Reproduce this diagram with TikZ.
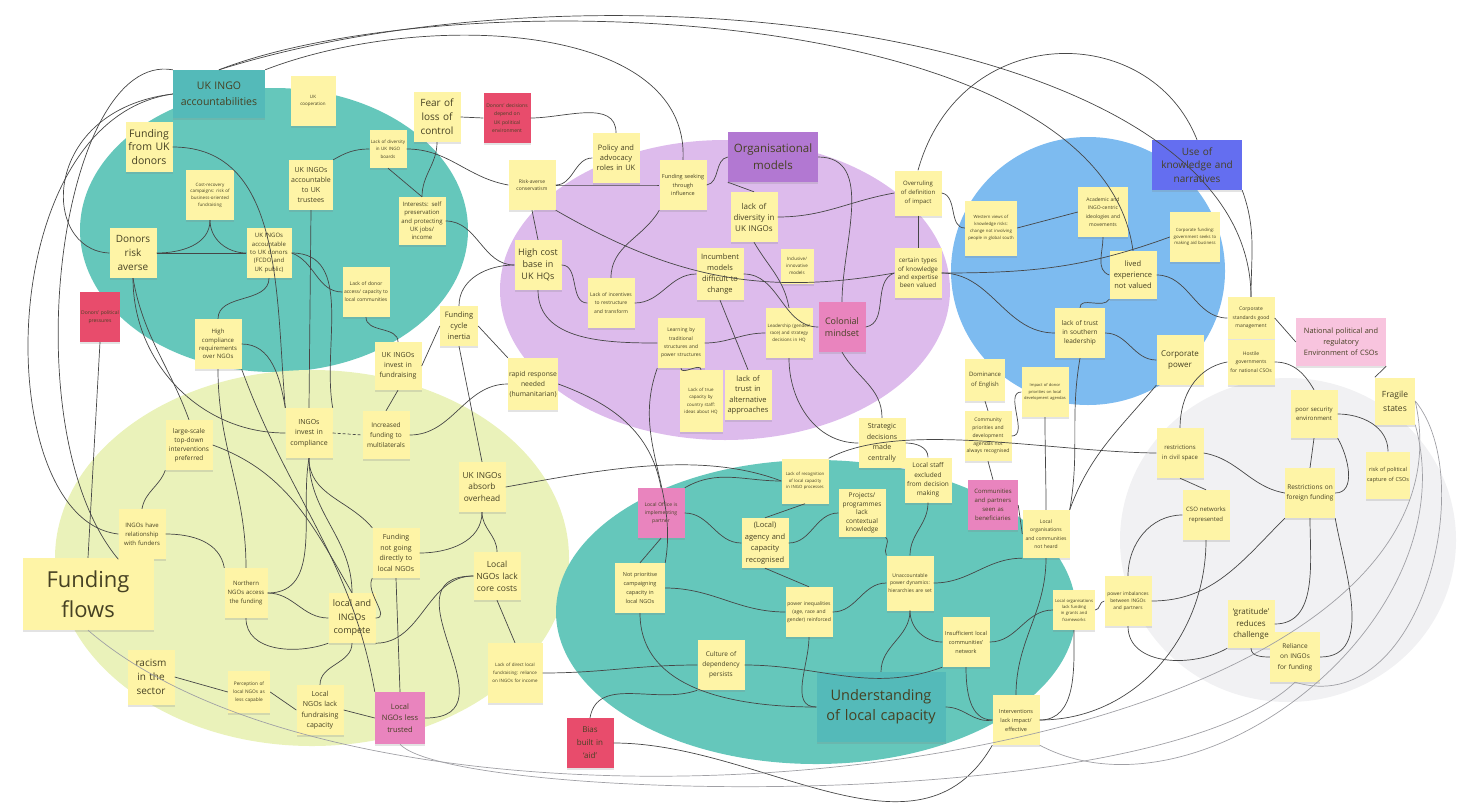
\documentclass[tikz,border=0pt]{standalone}
\usepackage{fontspec}
\setmainfont{Open Sans}
\usetikzlibrary{shadows}
\hyphenpenalty=10000
\exhyphenpenalty=10000
\definecolor{sticky}{RGB}{254,244,166}
\definecolor{inkbrown}{RGB}{70,65,35}
\definecolor{redsticky}{RGB}{232,76,108}
\definecolor{pinksticky}{RGB}{233,132,190}
\definecolor{palepink}{RGB}{248,196,222}
\definecolor{tealzone}{RGB}{101,199,187}
\definecolor{tealhead}{RGB}{84,186,185}
\definecolor{lilaczone}{RGB}{221,187,236}
\definecolor{purplehead}{RGB}{178,120,210}
\definecolor{bluezone}{RGB}{125,187,240}
\definecolor{bluehead}{RGB}{100,110,240}
\definecolor{limezone}{RGB}{234,242,186}
\definecolor{greyzone}{RGB}{241,241,243}
\definecolor{wire}{RGB}{70,70,70}
\definecolor{wirelight}{RGB}{160,160,165}
\newcommand{\fsz}[2]{\fontsize{#1}{#2}\selectfont}
\tikzstyle{note} = [rectangle, fill=sticky, text=inkbrown, align=center, inner sep=1pt,
minimum width=47pt, minimum height=50pt, text width=45pt, font=\fsz{5}{8},
drop shadow={shadow xshift=0pt, shadow yshift=-2pt, opacity=0.22}]
\tikzstyle{rednote} = [note, fill=redsticky]
\tikzstyle{pinknote} = [note, fill=pinksticky]
\tikzstyle{header} = [note, minimum width=90pt, text width=86pt, font=\fsz{10.5}{16}]
\tikzstyle{conn} = [draw=wire, line width=0.7pt]
\tikzstyle{faint} = [conn, draw=wirelight]
\newcommand{\links}[3][]{ %
  % join every node in #2 to every node in #3
  \foreach \x in {#2} { %
    \foreach \y in {#3} { %
      \path (\x) edge [conn,#1] (\y) ;%
    } ;
  } ;
}

\begin{document}
\begin{tikzpicture}[x=1pt, y=-1pt]
  \useasboundingbox (0,0) rectangle (1463,809);

  % zones
  \fill[tealzone] (274,230) ellipse [x radius=194, y radius=142];
  \fill[lilaczone] (725,290) ellipse [x radius=225, y radius=150];
  \fill[bluezone] (1088,271) ellipse [x radius=137, y radius=134];
  \fill[limezone] (312,558) ellipse [x radius=257, y radius=188];
  \fill[tealzone] (816,612) ellipse [x radius=260, y radius=152];
  \fill[greyzone] (1288,540) ellipse [x radius=168, y radius=162];

  % UK INGO accountabilities
  \node[header, fill=tealhead, minimum width=92pt, minimum height=48pt, text width=88pt] (ukingo) at (219,94) {UK INGO\\accountabilities};
  \node[note, minimum width=45pt, text width=43pt, font=\fsz{4.5}{7}] (ukcoop) at (313,101) {UK\\cooperation};
  \node[note, minimum width=46pt, font=\fsz{10.5}{13.5}] (fromuk) at (149,147) {Funding\\from UK\\donors};
  \node[note, minimum width=48pt, font=\fsz{4.5}{6.7}] (costrec) at (210,195) {Cost-recovery campaigns: risk of business-oriented fundraising};
  \node[note, font=\fsz{10}{14}] (riskav) at (133,253) {Donors\\risk\\averse};
  \node[note, minimum width=44pt, text width=42pt, font=\fsz{7}{10}] (trustees) at (311,185) {UK INGOs accountable to UK trustees};
  \node[note, minimum width=45pt, text width=43pt, font=\fsz{6}{8.3}] (accdon) at (269,253) {UK INGOs accountable to UK donors (FCDO and UK public)};
  \node[note, minimum width=37pt, minimum height=38pt, text width=35pt, font=\fsz{4.5}{7.5}] (boards) at (388,149) {Lack of diversity in UK INGO boards};
  \node[note, minimum height=48pt, font=\fsz{6}{8.3}] (selfpres) at (422,221) {Interests: self preservation and protecting UK jobs/ income};
  \node[note, font=\fsz{5}{8}] (donacc) at (366,292) {Lack of donor access/ capacity to local communities};
  \node[rednote, minimum width=40pt, text width=38pt, font=\fsz{5}{8}] (consdon) at (100,317) {Donors' political pressures};
  \node[note, font=\fsz{6}{8.3}] (highcomp) at (218,344) {High compliance requirements over NGOs};

  % Organisational models
  \node[note, minimum width=45pt, font=\fsz{10}{14}] (fear) at (437,117) {Fear of\\loss of\\control};
  \node[rednote, font=\fsz{5}{8.3}] (donpress) at (507,118) {Donors' decisions depend on UK political environment};
  \node[note, font=\fsz{7.5}{10}] (policy) at (616,158) {Policy and advocacy roles in UK};
  \node[note, font=\fsz{5}{6.7}] (conserv) at (532,185) {Risk-averse conservatism};
  \node[note, font=\fsz{5.5}{8.3}] (seeking) at (683,185) {Funding seeking through influence};
  \node[header, fill=purplehead, minimum height=50pt, font=\fsz{11.5}{17}] (orgmod) at (773,157) {Organisational\\models};
  \node[note, font=\fsz{8}{11}] (lackdiv) at (754,217) {lack of\\diversity in\\UK INGOs};
  \node[note, font=\fsz{9}{12}] (highcost) at (538,265) {High cost\\base in\\UK HQs};
  \node[note, font=\fsz{5}{8.3}] (incentive) at (611,303) {Lack of incentives to restructure and transform};
  \node[note, minimum height=52pt, font=\fsz{7.5}{11}] (incumbent) at (720,274) {Incumbent\\models\\difficult to\\change};
  \node[note, minimum width=33pt, minimum height=35pt, text width=31pt, font=\fsz{4.5}{7}] (inclusive) at (797,266) {Inclusive/ innovative models};
  \node[note, font=\fsz{5}{8.3}] (learning) at (681,343) {Learning by traditional structures and power structures};
  \node[note, font=\fsz{4.5}{7}] (leadership) at (789,333) {Leadership (gender/ race) and strategy decisions in HQ};
  \node[pinknote, font=\fsz{9}{12}] (colonial) at (842,327) {Colonial\\mindset};
  \node[note, font=\fsz{7.5}{10.5}] (lacktrust) at (748,395) {lack of trust in alternative approaches};
  \node[note, minimum width=43pt, minimum height=62pt, text width=41pt, font=\fsz{4.5}{7.5}] (truecap) at (701,401) {Lack of true capacity by country staff: ideas about HQ};
  \node[note, minimum height=45pt, font=\fsz{6}{9}] (overrule) at (918,193) {Overruling of definition of impact};
  \node[note, font=\fsz{6.3}{8.3}] (certain) at (918,273) {certain types of knowledge and expertise been valued};

  % Use of knowledge and narratives
  \node[header, fill=bluehead, minimum height=50pt, font=\fsz{10}{13.5}] (usek) at (1197,165) {Use of\\knowledge and\\narratives};
  \node[note, minimum width=52pt, minimum height=55pt, text width=50pt, font=\fsz{4.3}{7}] (western) at (991,228) {Western views of knowledge risks: change not involving people in global south};
  \node[note, minimum width=50pt, text width=48pt, font=\fsz{5}{8.3}] (academic) at (1103,212) {Academic and INGO-centric ideologies and movements};
  \node[note, minimum width=50pt, text width=48pt, font=\fsz{4.3}{6.8}] (corpfund) at (1195,237) {Corporate funding: government seeks to making aid business};
  \node[note, minimum height=48pt, font=\fsz{7.5}{11}] (lived) at (1133,275) {lived\\experience\\not valued};
  \node[note, minimum width=50pt, text width=48pt, font=\fsz{6.5}{9}] (southern) at (1080,333) {lack of trust in southern leadership};
  \node[note, font=\fsz{8}{11}] (corppow) at (1180,360) {Corporate\\power};
  \node[note, minimum height=42pt, font=\fsz{5}{8.3}] (corpstd) at (1251,318) {Corporate standards good management};
  \node[note, fill=palepink, minimum width=90pt, minimum height=48pt, text width=86pt, font=\fsz{7.4}{11}] (national) at (1341,342) {National political and\\regulatory\\Environment of CSOs};
  \node[note, minimum height=45pt, font=\fsz{5}{8.3}] (hostile) at (1251,362) {Hostile governments for national CSOs};

  % Fragile states
  \node[note, minimum width=40pt, minimum height=47pt, text width=38pt, font=\fsz{8.5}{14}] (fragile) at (1395,401) {Fragile\\states};
  \node[note, minimum height=48pt, font=\fsz{6}{9}] (poorsec) at (1314,414) {poor security environment};
  \node[note, font=\fsz{6}{10}] (restrict) at (1180,453) {restrictions in civil space};
  \node[note, minimum width=44pt, minimum height=47pt, text width=42pt, font=\fsz{5.5}{10}] (capture) at (1388,475) {risk of political capture of CSOs};
  \node[note, minimum width=50pt, text width=48pt, font=\fsz{6.5}{10}] (foreign) at (1310,493) {Restrictions on foreign funding};
  \node[note, font=\fsz{6}{10}] (csonet) at (1206,515) {CSO networks represented};
  \node[note, font=\fsz{4.8}{7}] (powerimb) at (1128,601) {power imbalances between INGOs and partners};
  \node[note, minimum height=48pt, font=\fsz{8}{11.5}] (gratitude) at (1251,624) {`gratitude'\\reduces\\challenge};
  \node[note, minimum width=50pt, text width=48pt, font=\fsz{6.5}{10.5}] (reliance) at (1295,657) {Reliance on INGOs for funding};

  % between the zones
  \node[note, minimum width=40pt, minimum height=42pt, text width=38pt, font=\fsz{6}{10}] (dominance) at (985,380) {Dominance of English};
  \node[note, minimum width=46pt, font=\fsz{4}{6.2}] (impact) at (1045,392) {Impact of donor priorities on local development agendas};
  \node[note, minimum width=45pt, font=\fsz{5}{7.8}] (community) at (988,436) {Community priorities and development agendas not always recognised};
  \node[note, minimum width=45pt, font=\fsz{7}{10.5}] (strategic) at (882,443) {Strategic decisions made centrally};
  \node[note, minimum height=45pt, font=\fsz{6.5}{9.3}] (localstaff) at (928,480) {Local staff excluded from decision making};
  \node[note, minimum height=45pt, font=\fsz{4.3}{6.5}] (lackcap) at (805,481) {Lack of recognition of local capacity in INGO processes};

  % Understanding of local capacity
  \node[pinknote, minimum width=50pt, text width=48pt, font=\fsz{6}{9}] (communities) at (993,505) {Communities and partners seen as beneficiaries};
  \node[note, minimum height=48pt, font=\fsz{6.5}{8.5}] (projects) at (862,513) {Projects/ programmes lack contextual knowledge};
  \node[note, font=\fsz{7.5}{11.5}] (agency) at (765,543) {(Local)\\agency and\\capacity\\recognised};
  \node[pinknote, font=\fsz{5}{8}] (localoff) at (661,513) {Local Office is implementing partner};
  \node[note, minimum width=50pt, text width=48pt, font=\fsz{5.5}{9}] (notprio) at (640,588) {Not prioritise campaigning capacity in local NGOs};
  \node[note, minimum height=48pt, font=\fsz{5}{8.3}] (lorgs) at (1046,534) {Local organisations and communities not heard};
  \node[note, minimum height=55pt, font=\fsz{5}{7.5}] (unacc) at (910,583) {Unaccountable power dynamics: hierarchies are set};
  \node[note, font=\fsz{5}{8.3}] (powerineq) at (809,612) {power inequalities (age, race and gender) reinforced};
  \node[note, font=\fsz{6.5}{10}] (dependency) at (721,665) {Culture of dependency persists};
  \node[note, font=\fsz{5.5}{9}] (insuff) at (966,642) {Insufficient local communities' network};
  \node[note, minimum width=42pt, minimum height=40pt, text width=40pt, font=\fsz{4.2}{6.3}] (localfund) at (1074,610) {Local organisations lack funding in grants and frameworks};
  \node[header, fill=tealhead, minimum width=129pt, minimum height=70pt, text width=125pt, font=\fsz{14.5}{20}] (understand) at (881,707) {Understanding\\of local capacity};
  \node[note, font=\fsz{5.5}{9}] (interv) at (1016,720) {Interventions lack impact/ effective};

  % Funding flows
  \node[note, minimum width=38pt, minimum height=40pt, text width=36pt, font=\fsz{7.5}{11}] (cycle) at (459,326) {Funding\\cycle\\inertia};
  \node[note, minimum height=48pt, font=\fsz{7}{10}] (invest) at (398,366) {UK INGOs invest in fundraising};
  \node[note, minimum width=50pt, minimum height=52pt, text width=48pt, font=\fsz{6.8}{10}] (rapid) at (533,384) {rapid response needed (humanitarian)};
  \node[note, font=\fsz{7}{10.5}] (compliance) at (309,433) {INGOs invest in compliance};
  \node[note, minimum height=48pt, font=\fsz{6.5}{10}] (multilat) at (386,435) {Increased funding to multilaterals};
  \node[note, font=\fsz{6.5}{9}] (largesc) at (189,445) {large-scale top-down interventions preferred};
  \node[note, minimum width=45pt, font=\fsz{8.3}{11.7}] (absorb) at (482,487) {UK INGOs\\absorb\\overhead};
  \node[note, minimum width=45pt, font=\fsz{6}{9}] (relfund) at (142,534) {INGOs have relationship with funders};
  \node[note, minimum width=131pt, minimum height=72pt, text width=125pt, font=\fsz{22}{30}] (flows) at (88,594) {Funding\\flows};
  \node[note, font=\fsz{7}{10.5}] (notgoing) at (396,553) {Funding not going directly to local NGOs};
  \node[note, minimum width=45pt, minimum height=48pt, font=\fsz{8.5}{12}] (lackcore) at (497,576) {Local\\NGOs lack\\core costs};
  \node[note, minimum width=43pt, text width=41pt, font=\fsz{6}{9}] (northern) at (246,593) {Northern NGOs access the funding};
  \node[note, font=\fsz{9}{13.5}] (compete) at (352,618) {local and\\INGOs\\compete};
  \node[note, minimum height=55pt, font=\fsz{10}{14}] (racism) at (151,677) {racism\\in the\\sector};
  \node[note, minimum width=42pt, minimum height=42pt, text width=40pt, font=\fsz{4.8}{8}] (perception) at (249,692) {Perception of local NGOs as less capable};
  \node[note, minimum width=45pt, font=\fsz{7}{10.5}] (lackfr) at (320,710) {Local NGOs lack fundraising capacity};
  \node[pinknote, minimum width=50pt, minimum height=52pt, text width=48pt, font=\fsz{7.5}{11.5}] (lesstrust) at (400,718) {Local\\NGOs less\\trusted};
  \node[note, minimum width=55pt, minimum height=60pt, text width=52pt, font=\fsz{4.5}{7.8}] (transp) at (515,673) {Lack of direct local fundraising: reliance on INGOs for income};
  \node[rednote, font=\fsz{8}{13}] (bias) at (590,743) {Bias\\built in\\`aid'};

  % links inside the accountabilities zone
  \draw[conn] (fromuk.east) to[out=0,in=95] (compliance.north west);
  \draw[conn] (costrec.south) to[out=-90,in=0] (riskav.east);
  \draw[conn] (costrec.south) to[out=-90,in=180] (accdon.west);
  \links{riskav.east}{accdon.west}
  \draw[conn] (ukingo.west) .. controls (40,110) and (40,250) .. (riskav.west);
  \draw[conn] (ukingo.west) .. controls (-10,120) and (-10,520) .. (relfund.west);
  \draw[conn] (ukingo.north west) .. controls (60,50) and (10,430) .. (relfund.south west);
  \draw[conn] (riskav.south) to[out=-90,in=180] (compliance.west);
  \draw[conn] (riskav.south) to[out=-80,in=110] (largesc.north);
  \links{trustees.south}{compliance.north}
  \draw[conn] (accdon.south) to[out=-90,in=90] (highcomp.north);
  \draw[conn] (accdon.east) to[out=0,in=100] (compliance.north east);
  \draw[conn] (highcomp.east) to[out=0,in=100] (compliance.north west);
  \draw[conn] (highcomp.south) to[out=-90,in=90] (northern.north);
  \draw[conn] (highcomp.south east) to[out=-70,in=100] (lesstrust.north west);
  \draw[conn] (boards.east) to[out=0,in=170] (conserv.west);
  \links{boards.south}{selfpres.north}
  \draw[conn] (boards.west) to[out=180,in=30] (trustees.north east);
  \draw[conn] (selfpres.east) to[out=0,in=180] (highcost.west);
  \draw[conn] (fear.south) to[out=-90,in=90] (selfpres.north);
  \draw[conn] (donacc.west) to[out=180,in=-20] (accdon.east);
  \draw[conn] (donacc.south) to[out=-90,in=90] (invest.north);
  \links{consdon.south}{flows.north}

  % links inside the organisational zone
  \links{fear.east}{donpress.west}
  \draw[conn] (donpress.east) to[out=0,in=90] (policy.north);
  \draw[conn] (policy.west) to[out=180,in=0] (conserv.east);
  \draw[conn] (conserv.east) to[out=0,in=180] (seeking.west);
  \draw[conn] (seeking.east) to[out=10,in=190] (orgmod.west);
  \links{conserv.south}{highcost.north}
  \draw[conn] (conserv.south east) to[out=-30,in=190] (certain.west);
  \draw[conn] (seeking.south west) to[out=-120,in=90] (incentive.north);
  \draw[conn] (highcost.east) to[out=0,in=180] (incentive.west);
  \draw[conn] (highcost.west) to[out=180,in=90] (cycle.north);
  \draw[conn] (highcost.south) to[out=-90,in=180] (learning.west);
  \draw[conn] (incentive.east) to[out=0,in=180] (incumbent.west);
  \links{incumbent.south}{lacktrust.north}
  \draw[conn] (incumbent.east) to[out=0,in=180] (colonial.west);
  \links{lackdiv.north}{orgmod.south west}
  \draw[conn] (lackdiv.east) to[out=0,in=190] (overrule.west);
  \draw[conn] (orgmod.east) to[out=0,in=90] (colonial.north);
  \draw[conn] (leadership.north) to[out=100,in=-60] (lackdiv.south);
  \draw[conn] (learning.east) to[out=0,in=180] (leadership.west);
  \draw[conn] (learning.south) to[out=-90,in=90] (truecap.north);
  \draw[conn] (learning.south west) to[out=-110,in=80] (notprio.north east);
  \draw[conn] (colonial.east) to[out=10,in=200] (certain.west);
  \links{overrule.south}{certain.north}
  \draw[conn] (overrule.east) to[out=-10,in=180] (western.west);

  % links inside the knowledge zone
  \links{western.east}{academic.west}
  \draw[conn] (certain.east) to[out=0,in=180] (southern.west);
  \draw[conn] (certain.east) to[out=0,in=200] (corpfund.west);
  \draw[conn] (academic.south) to[out=-90,in=160] (lived.west);
  \draw[conn] (southern.north) to[out=90,in=-120] (lived.south west);
  \draw[conn] (southern.east) to[out=0,in=180] (corppow.west);
  \draw[conn] (corppow.south west) to[out=-130,in=70] (lorgs.north east);
  \draw[conn] (corpstd.west) to[out=180,in=0] (lived.east);
  \links{corpstd.east}{national.west}
  \draw[conn] (usek.south east) to[out=-70,in=90] (corpstd.north);
  \draw[conn] (hostile.west) to[out=190,in=90] (restrict.north);
  \draw[conn] (hostile.east) to[out=0,in=120] (poorsec.north);
  \links{national.south east}{fragile.north west}

  % links inside the fragile states zone
  \draw[conn] (poorsec.east) to[out=0,in=90] (capture.north);
  \links{poorsec.south}{foreign.north}
  \draw[conn] (poorsec.south east) to[out=-60,in=0] (foreign.east);
  \draw[conn] (restrict.east) to[out=-10,in=170] (foreign.west);
  \links{restrict.south}{csonet.north}
  \draw[conn] (restrict.west) .. controls (1050,452) and (900,420) .. (lackcap.north east);
  \draw[conn] (csonet.west) to[out=180,in=90] (powerimb.north);
  \draw[conn] (csonet.south) to[out=-90,in=0] (interv.east);
  \draw[conn] (foreign.south west) to[out=-135,in=0] (powerimb.east);
  \draw[conn] (foreign.south) to[out=-90,in=0] (gratitude.east);
  \draw[conn] (foreign.south east) to[out=-80,in=0] (reliance.east);
  \draw[conn] (powerimb.south) to[out=-90,in=-150] (gratitude.south west);
  \draw[conn] (gratitude.south) to[out=-90,in=180] (reliance.west);
  \draw[conn] (powerimb.west) to[out=180,in=0] (localfund.east);

  % links inside the funding flows zone
  \links{cycle.west}{invest.east}
  \links{cycle.south}{absorb.north}
  \links{cycle.east}{rapid.north west}
  \links{invest.south}{multilat.north}
  \links[densely dashed]{compliance.east}{multilat.west}
  \draw[conn] (multilat.east) to[out=0,in=180] (rapid.west);
  \draw[conn] (rapid.east) to[out=-20,in=100] (localoff.north);
  \draw[conn] (absorb.south) to[out=-90,in=0] (notgoing.east);
  \draw[conn] (absorb.south) to[out=-90,in=90] (lackcore.north);
  \draw[conn] (absorb.east) .. controls (600,470) and (700,450) .. (lackcap.west);
  \links{notgoing.south}{lesstrust.north}
  \draw[conn] (notgoing.south west) to[out=-120,in=0] (compete.east);
  \draw[conn] (notgoing.north west) to[out=130,in=-90] (compliance.south);
  \links{lackcore.south}{transp.north}
  \draw[conn] (lackcore.west) to[out=180,in=0] (compete.south east);
  \draw[conn] (transp.east) to[out=0,in=180] (dependency.west);
  \draw[conn] (bias.north) to[out=80,in=200] (dependency.south west);
  \draw[conn] (lesstrust.east) to[out=0,in=180, looseness=1.6] (lackcore.west);
  \links{lackfr.east}{lesstrust.west}
  \draw[conn] (lackfr.north) to[out=90,in=-90] (compete.south);
  \links{perception.east}{lackfr.west}
  \links{racism.east}{perception.west}
  \draw[conn] (northern.east) to[out=0,in=180] (compete.west);
  \draw[conn] (northern.south) to[out=-90,in=200] (compete.south west);
  \draw[conn] (relfund.east) to[out=0,in=100] (northern.north west);
  \draw[conn] (largesc.south west) to[out=-110,in=80] (relfund.north);
  \draw[conn] (largesc.east) to[out=-20,in=120] (compete.north);
  \draw[conn] (compliance.south) to[out=-90,in=90] (compete.north);
  \draw[conn] (compliance.south) to[out=-100,in=0] (northern.east);

  % links inside the local capacity zone
  \links{localoff.south}{notprio.north}
  \draw[conn] (localoff.east) to[out=0,in=180] (agency.west);
  \draw[conn] (localoff.north east) to[out=30,in=180] (lackcap.west);
  \draw[conn] (notprio.east) to[out=0,in=180] (powerineq.west);
  \draw[conn] (notprio.south) to[out=-90,in=180] (understand.west);
  \draw[conn] (agency.east) to[out=0,in=180] (projects.west);
  \links{agency.south}{powerineq.north}
  \links{lackcap.south}{agency.north}
  \draw[conn] (strategic.north) to[out=90,in=-60] (colonial.south);
  \draw[conn] (leadership.south) to[out=-90,in=180] (strategic.west);
  \draw[conn] (localstaff.north) to[out=90,in=0] (strategic.east);
  \draw[conn] (localstaff.south) to[out=-90,in=90] (unacc.north);
  \links{dominance.south}{community.north}
  \draw[conn] (impact.south) to[out=-90,in=90] (lorgs.north);
  \draw[conn] (impact.west) to[out=180,in=0] (community.east);
  \links{community.south}{communities.north}
  \links{communities.east}{lorgs.west}
  \draw[conn] (southern.south) to[out=-100,in=80] (lorgs.north east);
  \draw[conn] (lorgs.south) to[out=-90,in=90] (interv.north);
  \draw[conn] (projects.south east) to[out=-45,in=120] (unacc.north west);
  \draw[conn] (unacc.east) to[out=0,in=180] (lorgs.south west);
  \draw[conn] (unacc.west) to[out=180,in=0] (powerineq.east);
  \draw[conn] (unacc.south) to[out=-90,in=180] (insuff.west);
  \draw[conn] (insuff.east) to[out=0,in=180] (localfund.west);
  \draw[conn] (insuff.south) to[out=-90,in=180] (interv.west);
  \draw[conn] (powerineq.south) to[out=-90,in=180] (understand.west);
  \draw[conn] (dependency.east) to[out=0,in=-160] (insuff.south west);
  \draw[conn] (understand.east) to[out=0,in=190] (interv.west);
  \draw[conn] (understand.north) to[out=90,in=-90] (unacc.south);
  \draw[conn] (localfund.south) to[out=-90,in=0] (interv.east);
  \draw[conn] (bias.east) to[out=0,in=-120] (interv.south west);

  % long loops round the zones
  \draw[conn] (ukingo.north east) .. controls (420,10) and (690,20) .. (seeking.north);
  \draw[conn] (ukingo.north) .. controls (450,-20) and (1100,0) .. (lived.north);
  \draw[conn] (ukingo.north) .. controls (600,-50) and (1250,30) .. (corpstd.north);
  \draw[conn] (overrule.north) .. controls (960,20) and (1150,20) .. (usek.north);
  \draw[faint] (flows.south) .. controls (400,900) and (1500,780) .. (fragile.east);
  \draw[faint] (lesstrust.south) .. controls (450,800) and (1150,820) .. (reliance.south);
  \draw[faint] (fragile.east) .. controls (1480,480) and (1420,720) .. (reliance.south);
  \draw[faint] (fragile.south east) .. controls (1470,620) and (1200,830) .. (interv.south east);
\end{tikzpicture}
\end{document}
